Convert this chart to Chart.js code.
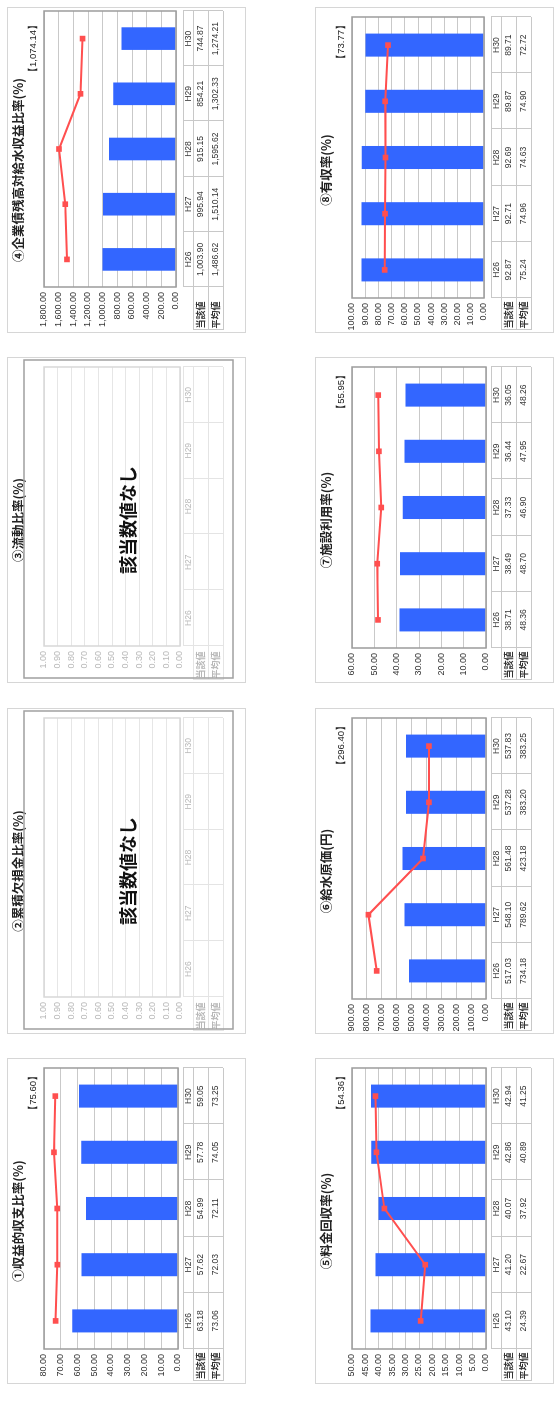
<!DOCTYPE html>
<html lang="ja">
<head>
<meta charset="utf-8">
<title>経営指標</title>
<script src="https://cdn.jsdelivr.net/npm/chart.js@4.4.1/dist/chart.umd.min.js"></script>
<style>
  html, body { margin: 0; padding: 0; background: #fff; }
  #page { position: relative; width: 554px; height: 1404px; overflow: hidden; }
  .panel {
    position: absolute; width: 326px; height: 239px; box-sizing: border-box;
    border: 1px solid #d6d6d6; background: #fff;
    transform-origin: 0 0; transform: rotate(-90deg);
  }
  .panel canvas { position: absolute; left: -1px; top: -1px; }
</style>
</head>
<body>
<div id="page">
  <div class="panel" style="left:7px; top:1384px;"><canvas id="c1" width="326" height="239"></canvas></div>
  <div class="panel" style="left:7px; top:1034px;"><canvas id="c2" width="326" height="239"></canvas></div>
  <div class="panel" style="left:7px; top:683px;"><canvas id="c3" width="326" height="239"></canvas></div>
  <div class="panel" style="left:7px; top:333px;"><canvas id="c4" width="326" height="239"></canvas></div>
  <div class="panel" style="left:315px; top:1384px;"><canvas id="c5" width="326" height="239"></canvas></div>
  <div class="panel" style="left:315px; top:1034px;"><canvas id="c6" width="326" height="239"></canvas></div>
  <div class="panel" style="left:315px; top:683px;"><canvas id="c7" width="326" height="239"></canvas></div>
  <div class="panel" style="left:315px; top:333px;"><canvas id="c8" width="326" height="239"></canvas></div>
</div>
<script>
// Fiscal years (categories)
const years = ["H26", "H27", "H28", "H29", "H30"];
const rowLabels = ["当該値", "平均値"];

// ① 収益的収支比率
const revenueValues = [63.18, 57.62, 54.99, 57.78, 59.05];
const revenueAverage = [73.06, 72.03, 72.11, 74.05, 73.25];
const revenueAxis = [0, 80, 10];          // min, max, step
const revenueRef = 75.60;

// ② 累積欠損金比率 (no data)
const deficitValues = [];
const deficitAverage = [];
const deficitAxis = [0, 1, 0.1];

// ③ 流動比率 (no data)
const currentValues = [];
const currentAverage = [];
const currentAxis = [0, 1, 0.1];

// ④ 企業債残高対給水収益比率
const debtValues = [1003.90, 995.94, 915.15, 854.21, 744.87];
const debtAverage = [1486.62, 1510.14, 1595.62, 1302.33, 1274.21];
const debtAxis = [0, 1800, 200];
const debtRef = 1074.14;

// ⑤ 料金回収率
const recoveryValues = [43.10, 41.20, 40.07, 42.86, 42.94];
const recoveryAverage = [24.39, 22.67, 37.92, 40.89, 41.25];
const recoveryAxis = [0, 50, 5];
const recoveryRef = 54.36;

// ⑥ 給水原価
const costValues = [517.03, 548.10, 561.48, 537.28, 537.83];
const costAverage = [734.18, 789.62, 423.18, 383.20, 383.25];
const costAxis = [0, 900, 100];
const costRef = 296.40;

// ⑦ 施設利用率
const usageValues = [38.71, 38.49, 37.33, 36.44, 36.05];
const usageAverage = [48.36, 48.70, 46.90, 47.95, 48.26];
const usageAxis = [0, 60, 10];
const usageRef = 55.95;

// ⑧ 有収率
const billedValues = [92.87, 92.71, 92.69, 89.87, 89.71];
const billedAverage = [75.24, 74.96, 74.63, 74.90, 72.72];
const billedAxis = [0, 100, 10];
const billedRef = 73.77;

const BLUE = "#3366ff";
const RED = "#ff4f4f";
const NUM_FONT = '"Liberation Sans", sans-serif';
const JP_FONT = '"Noto Sans CJK JP", sans-serif';

Chart.defaults.font.family = NUM_FONT;
Chart.defaults.font.size = 9;
Chart.defaults.color = "#333";

function fmt(v) {
  return v.toLocaleString("en-US", { minimumFractionDigits: 2, maximumFractionDigits: 2 });
}

// Title, reference value and the data table under the plot
const sheet = {
  id: "sheet",
  afterDraw(chart, args, o) {
    const ctx = chart.ctx;
    const a = chart.chartArea;
    const x = chart.scales.x;
    const n = chart.data.labels.length;
    const cw = (a.right - a.left) / n;
    const rows = [176, 186, 201, 216];
    const bars = chart.data.datasets.find(d => d.label === rowLabels[0]).data;
    const avg = chart.data.datasets.find(d => d.label === rowLabels[1]).data;

    ctx.save();
    // plot frame
    ctx.strokeStyle = o.empty ? "#d8d8d8" : "#9c9c9c";
    ctx.lineWidth = 1.5;
    ctx.strokeRect(a.left, a.top, a.right - a.left, a.bottom - a.top);

    // table rules
    ctx.strokeStyle = o.empty ? "#e4e4e4" : "#c8c8c8";
    ctx.lineWidth = 1;
    ctx.beginPath();
    ctx.moveTo(a.left, rows[0] + 0.5); ctx.lineTo(a.right, rows[0] + 0.5);
    for (let r = 1; r < rows.length; r++) {
      ctx.moveTo(3, rows[r] + 0.5); ctx.lineTo(a.right, rows[r] + 0.5);
    }
    for (let i = 0; i <= n; i++) {
      const px = Math.round(x.getPixelForValue(i) - cw / 2) + 0.5;
      ctx.moveTo(px, rows[0]); ctx.lineTo(px, rows[3]);
    }
    ctx.moveTo(3.5, rows[1]); ctx.lineTo(3.5, rows[3]);
    ctx.stroke();

    // table texts
    ctx.textAlign = "center";
    ctx.textBaseline = "middle";
    ctx.fillStyle = o.empty ? "#b8b8b8" : "#333";
    ctx.font = "8.5px " + NUM_FONT;
    chart.data.labels.forEach((lab, i) => {
      const cx = x.getPixelForValue(i);
      ctx.fillText(lab, cx, 181.5);
      if (bars[i] != null) ctx.fillText(fmt(bars[i]), cx, 194);
      if (avg[i] != null) ctx.fillText(fmt(avg[i]), cx, 209);
    });
    ctx.font = "bold 9px " + JP_FONT;
    ctx.fillText(rowLabels[0], 18, 194);
    ctx.fillText(rowLabels[1], 18, 209);

    // title
    ctx.fillStyle = "#222";
    ctx.font = "bold 12.5px " + JP_FONT;
    ctx.fillText(o.title, chart.width / 2, 11);

    if (o.empty) {
      ctx.strokeStyle = "#a0a0a0";
      ctx.lineWidth = 1.5;
      ctx.strokeRect(5, 17, 318, 209);
      ctx.fillStyle = "#111";
      ctx.font = "bold 18px " + JP_FONT;
      ctx.fillText("該当数値なし", 163, 121);
    } else {
      ctx.textAlign = "right";
      ctx.font = "9.5px " + NUM_FONT;
      ctx.fillText("【" + fmt(o.ref) + "】", 313, 26);
    }
    ctx.restore();
  }
};

function buildChart(id, title, values, average, axis, ref, plot) {
  const empty = values.length === 0;
  const p = Object.assign({ left: 35, right: 316, bottom: 171 }, plot || {});
  return new Chart(document.getElementById(id), {
    type: "bar",
    data: {
      labels: years,
      datasets: [
        {
          type: "line", label: rowLabels[1], data: average, order: 0,
          borderColor: RED, backgroundColor: RED, borderWidth: 2,
          pointStyle: "rect", pointRadius: 4, pointBorderWidth: 0
        },
        {
          label: rowLabels[0], data: values, order: 1,
          backgroundColor: BLUE, categoryPercentage: 1, barPercentage: 0.41
        }
      ]
    },
    options: {
      responsive: false,
      animation: false,
      layout: { padding: { top: 37, right: 326 - p.right, left: 0, bottom: 0 } },
      plugins: {
        legend: { display: false },
        tooltip: { enabled: false },
        sheet: { title: title, ref: ref, empty: empty }
      },
      scales: {
        x: {
          grid: { display: false },
          border: { display: false },
          ticks: { display: false },
          afterFit: s => { s.height = 239 - p.bottom; }
        },
        y: {
          min: axis[0],
          max: axis[1],
          border: { display: false },
          grid: { color: empty ? "#e6e6e6" : "#c9c9c9", drawTicks: false },
          ticks: {
            stepSize: axis[2],
            autoSkip: false,
            padding: 5,
            color: empty ? "#b8b8b8" : "#333",
            callback: v => fmt(v)
          },
          afterFit: s => { s.width = p.left; }
        }
      }
    },
    plugins: [sheet]
  });
}

buildChart("c1", "①収益的収支比率(%)", revenueValues, revenueAverage, revenueAxis, revenueRef);
buildChart("c2", "②累積欠損金比率(%)", deficitValues, deficitAverage, deficitAxis, null, { left: 37, bottom: 173 });
buildChart("c3", "③流動比率(%)", currentValues, currentAverage, currentAxis, null, { left: 37, bottom: 173 });
buildChart("c4", "④企業債残高対給水収益比率(%)", debtValues, debtAverage, debtAxis, debtRef, { left: 46, right: 324, bottom: 169 });
buildChart("c5", "⑤料金回収率(%)", recoveryValues, recoveryAverage, recoveryAxis, recoveryRef);
buildChart("c6", "⑥給水原価(円)", costValues, costAverage, costAxis, costRef);
buildChart("c7", "⑦施設利用率(%)", usageValues, usageAverage, usageAxis, usageRef);
buildChart("c8", "⑧有収率(%)", billedValues, billedAverage, billedAxis, billedRef, { bottom: 169 });
</script>
</body>
</html>
